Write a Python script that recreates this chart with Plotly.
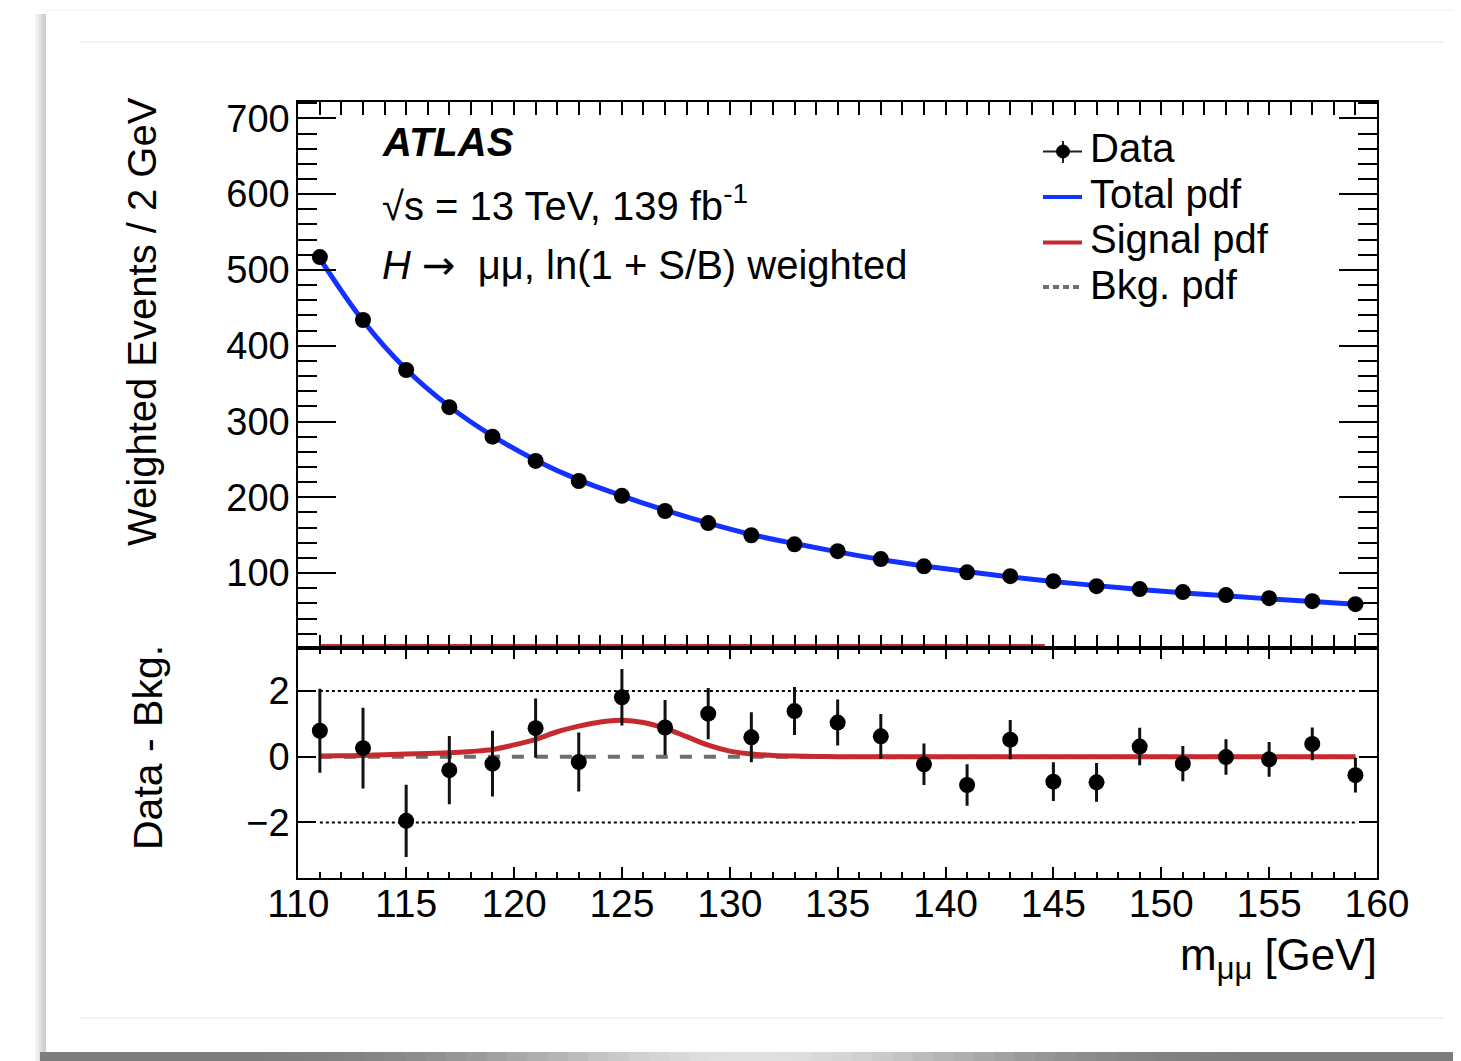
import math
import plotly.graph_objects as go

# ---------------- data ----------------
mass = [111, 113, 115, 117, 119, 121, 123, 125, 127, 129, 131, 133, 135,
        137, 139, 141, 143, 145, 147, 149, 151, 153, 155, 157, 159]
data_events = [517, 434, 368, 319, 280, 248, 221.5, 202, 182, 166, 150, 138, 129,
               118.5, 109, 101, 96, 89.4, 82.8, 78.9, 75, 71, 67, 63, 59]
total_pdf = [515, 433, 369, 320, 281, 249, 223, 202, 183, 166, 151, 139, 128,
             118, 109.5, 102, 95, 89, 83.5, 78.5, 74, 70, 66, 62.5, 59]
data_minus_bkg = [0.79, 0.26, -1.95, -0.41, -0.21, 0.87, -0.16, 1.81, 0.89, 1.31, 0.59, 1.39, 1.04,
                  0.62, -0.23, -0.86, 0.52, -0.76, -0.78, 0.31, -0.21, -0.01, -0.08, 0.39, -0.56]
data_minus_bkg_err = [1.28, 1.23, 1.10, 1.04, 1.00, 0.90, 0.90, 0.86, 0.84, 0.78, 0.76, 0.73, 0.70,
                      0.68, 0.63, 0.63, 0.60, 0.59, 0.59, 0.57, 0.54, 0.54, 0.53, 0.50, 0.53]
sig_mass = list(range(111, 160))
signal_pdf = [0.02, 0.03, 0.04, 0.06, 0.08, 0.10, 0.12, 0.16, 0.22, 0.36, 0.53, 0.76, 0.93, 1.06,
              1.11, 1.04, 0.86, 0.61, 0.35, 0.17, 0.08, 0.04, 0.02, 0.01] + [0.0] * 25
bkg_mass = [111, 159]
bkg_pdf = [0.0, 0.0]
upper_sig_end = 144.6
y_ticks_upper = [100, 200, 300, 400, 500, 600, 700]
y_ticks_lower = [-2, 0, 2]
y_ticks_lower_text = ["\u22122", "0", "2"]
x_ticks = [110, 115, 120, 125, 130, 135, 140, 145, 150, 155, 160]
legend_labels = ["Data", "Total pdf", "Signal pdf", "Bkg. pdf"]

OFF = 8  # page body margin
W, H = 1461 - OFF, 1061 - OFF
FONT = "Liberation Sans, Arial, Helvetica, sans-serif"
BLUE = "#1432ff"
RED = "#c62a2f"
GRAY = "#6e6e6e"
Y_RANGE = [0.8, 722]
SIG_LIFT = 3.7  # upper-panel signal line sits just above the pad edge


def px(x):
    return (x - OFF) / W


def py(y):
    return 1 - (y - OFF) / H


fig = go.Figure()

# upper panel
up_sig_x = [m for m in sig_mass if m <= upper_sig_end] + [upper_sig_end]
up_sig_y = [s for m, s in zip(sig_mass, signal_pdf) if m <= upper_sig_end] + [0.0]
fig.add_trace(go.Scatter(x=up_sig_x, y=up_sig_y, mode="lines",
                         line=dict(color=RED, width=4), xaxis="x", yaxis="y3", showlegend=False))
fig.add_trace(go.Scatter(x=mass, y=total_pdf, mode="lines", line_shape="spline",
                         line=dict(color=BLUE, width=5), xaxis="x", yaxis="y", showlegend=False))
fig.add_trace(go.Scatter(x=mass, y=data_events, mode="markers",
                         marker=dict(color="black", size=16), xaxis="x", yaxis="y",
                         showlegend=False, cliponaxis=False))

# lower panel
fig.add_trace(go.Scatter(x=bkg_mass, y=bkg_pdf, mode="lines",
                         line=dict(color=GRAY, width=4, dash="dash"), xaxis="x2", yaxis="y2",
                         showlegend=False))
fig.add_trace(go.Scatter(x=sig_mass, y=signal_pdf, mode="lines", line_shape="spline",
                         line=dict(color=RED, width=5), xaxis="x2", yaxis="y2", showlegend=False))
fig.add_trace(go.Scatter(x=mass, y=data_minus_bkg, mode="markers",
                         error_y=dict(type="data", array=data_minus_bkg_err, color="#111111",
                                      thickness=3, width=0),
                         marker=dict(color="black", size=16), xaxis="x2", yaxis="y2",
                         showlegend=False, cliponaxis=False))

xdom = [px(298.3), px(1377)]
ydom_up = [py(648.3), py(101.7)]
axis_common = dict(showline=True, linewidth=2, linecolor="black", mirror="allticks",
                   showgrid=False, zeroline=False, ticks="inside", tickwidth=2,
                   automargin=False, tickcolor="black")

fig.update_layout(
    template="none",
    width=W, height=H, autosize=False,
    margin=dict(l=0, r=0, t=0, b=0, pad=0),
    paper_bgcolor="white", plot_bgcolor="rgba(0,0,0,0)",
    xaxis=dict(domain=xdom, range=[110, 160], anchor="y", showticklabels=False,
               tickmode="array", tickvals=x_ticks, ticklen=13,
               minor=dict(ticks="inside", ticklen=7, dtick=1, tick0=110, tickwidth=2,
                          tickcolor="black"),
               **axis_common),
    xaxis2=dict(domain=xdom, range=[110, 160], anchor="y2", showticklabels=True,
                tickmode="array", tickvals=x_ticks, ticklen=11, ticklabelstandoff=-10,
                tickfont=dict(family=FONT, size=39, color="black"),
                minor=dict(ticks="inside", ticklen=6, dtick=1, tick0=110, tickwidth=2,
                           tickcolor="black"),
                **axis_common),
    yaxis=dict(domain=ydom_up, range=Y_RANGE, anchor="x",
               tickmode="array", tickvals=y_ticks_upper, ticklen=38, ticklabelstandoff=-1,
               tickfont=dict(family=FONT, size=38, color="black"),
               minor=dict(ticks="inside", ticklen=19, dtick=20, tick0=0, tickwidth=2,
                          tickcolor="black"),
               **axis_common),
    yaxis3=dict(overlaying="y", anchor="x", range=[Y_RANGE[0] - SIG_LIFT, Y_RANGE[1] - SIG_LIFT],
                visible=False, showgrid=False, zeroline=False, automargin=False),
    yaxis2=dict(domain=[py(878.3), py(648.3)], range=[-3.7, 3.3], anchor="x2",
                tickmode="array", tickvals=y_ticks_lower, ticktext=y_ticks_lower_text,
                ticklen=18, ticklabelstandoff=-1,
                tickfont=dict(family=FONT, size=38, color="black"),
                **axis_common),
)

shapes = []
# card shadow (left and bottom) and card
for i, c in enumerate(["#f4f4f4", "#ececec", "#e2e2e2", "#d8d8d8", "#cfcfcf"]):
    shapes.append(dict(type="rect", xref="paper", yref="paper", layer="below",
                       x0=px(35 + 2 * i), x1=px(46), y0=py(1061), y1=py(14),
                       line=dict(width=0), fillcolor=c))
nseg = 70
for i in range(nseg):
    x0 = 40 + (1461 - 40) * i / nseg
    x1 = 40 + (1461 - 40) * (i + 1) / nseg
    t = (i + 0.5) / nseg
    g = int(125 + 100 * math.sin(math.pi * t) ** 6)
    shapes.append(dict(type="rect", xref="paper", yref="paper", layer="below",
                       x0=px(x0), x1=px(x1 + 1), y0=py(1061), y1=py(1052),
                       line=dict(width=0), fillcolor=f"rgb({g},{g},{g})"))
shapes.append(dict(type="rect", xref="paper", yref="paper", layer="below",
                   x0=px(46), x1=px(1461), y0=py(1052), y1=py(10),
                   line=dict(width=0), fillcolor="white"))
shapes.append(dict(type="line", xref="paper", yref="paper", layer="below",
                   x0=px(46), x1=px(1461), y0=py(10), y1=py(10),
                   line=dict(width=1, color="#f0f0f0")))
for yy in [42, 1018]:
    shapes.append(dict(type="line", xref="paper", yref="paper", layer="below",
                       x0=px(80), x1=px(1445), y0=py(yy), y1=py(yy),
                       line=dict(width=1, color="#e6e6e6")))
# dotted reference lines at +-2
for yv in [2, -2]:
    shapes.append(dict(type="line", xref="x2", yref="y2", layer="below",
                       x0=111, x1=159, y0=yv, y1=yv,
                       line=dict(width=2, color="black", dash="dot")))

# legend glyphs
leg_x0, leg_x1 = 1043, 1082
shapes.append(dict(type="line", xref="paper", yref="paper", x0=px(leg_x0), x1=px(leg_x1),
                   y0=py(151.5), y1=py(151.5), line=dict(color="#222222", width=2)))
shapes.append(dict(type="line", xref="paper", yref="paper", x0=px(1063), x1=px(1063),
                   y0=py(141), y1=py(163), line=dict(color="#222222", width=2)))
shapes.append(dict(type="circle", xref="paper", yref="paper", x0=px(1056.5), x1=px(1069.5),
                   y0=py(158), y1=py(145), line=dict(color="black", width=1),
                   fillcolor="black"))
shapes.append(dict(type="line", xref="paper", yref="paper", x0=px(leg_x0), x1=px(leg_x1),
                   y0=py(197), y1=py(197), line=dict(color=BLUE, width=4)))
shapes.append(dict(type="line", xref="paper", yref="paper", x0=px(leg_x0), x1=px(leg_x1),
                   y0=py(242.5), y1=py(242.5), line=dict(color=RED, width=4)))
shapes.append(dict(type="line", xref="paper", yref="paper", x0=px(leg_x0), x1=px(leg_x1),
                   y0=py(287), y1=py(287), line=dict(color=GRAY, width=4, dash="6px,4px")))
fig.update_layout(shapes=shapes)

ann = []


def text(x, y, s, size=37, xanchor="left", angle=0):
    ann.append(dict(x=px(x), y=py(y), xref="paper", yref="paper", text=s, showarrow=False,
                    xanchor=xanchor, yanchor="middle", textangle=angle,
                    font=dict(family=FONT, size=size, color="black")))


text(380, 142, "<b><i>ATLAS</i></b>", size=40)
text(380, 203, "\u221as = 13 TeV, 139 fb<sup>-1</sup>", size=40)
text(380, 265, "<i>H</i> <span style=\"font-family:DejaVu Sans\">\u2192</span>\u00a0 "
               "\u03bc\u03bc, ln(1 + S/B) weighted", size=40)
for i, lab in enumerate(legend_labels):
    text(1088, 148 + 45.5 * i, lab, size=40)
text(142, 322, "Weighted Events / 2 GeV", size=40, xanchor="center", angle=-90)
text(148, 748, "Data - Bkg.", size=41, xanchor="center", angle=-90)
text(1379, 958, "m<sub>\u03bc\u03bc</sub> [GeV]", size=44, xanchor="right")
fig.update_layout(annotations=ann)

fig.write_html("out.html")
